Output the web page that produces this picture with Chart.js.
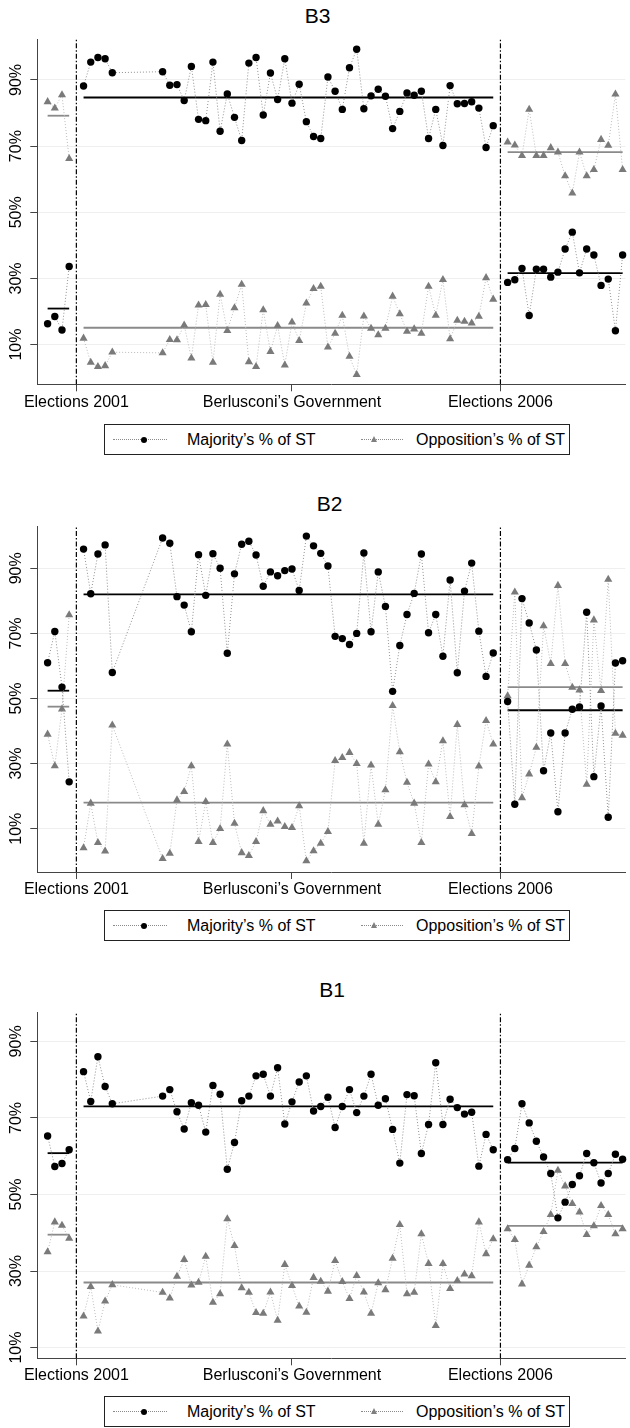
<!DOCTYPE html>
<html>
<head>
<meta charset="utf-8">
<script src="https://cdn.jsdelivr.net/npm/chart.js@4.4.1/dist/chart.umd.min.js"></script>
<style>
html,body{margin:0;padding:0;background:#fff;}
body{width:630px;height:1428px;position:relative;overflow:hidden;font-family:"Liberation Sans",Arial,Helvetica,sans-serif;}
canvas{position:absolute;left:0;}
.title{position:absolute;font-size:21px;line-height:24px;height:24px;color:#000;transform:translateX(-50%);white-space:nowrap;}
.legend{position:absolute;left:104px;width:466px;height:31px;box-sizing:border-box;border:1px solid #222;overflow:hidden;background:transparent;}
.legend .ln{position:absolute;top:14px;height:0;border-top:1px dotted #8a8a8a;}
.legend .dot{position:absolute;top:12px;width:6px;height:6px;border-radius:50%;background:#000;margin-left:-3px;}
.legend .tri{position:absolute;top:11px;width:0;height:0;border-left:3.5px solid transparent;border-right:3.5px solid transparent;border-bottom:6px solid #7f7f7f;margin-left:-3.5px;}
.legend .txt{position:absolute;top:0;line-height:29px;font-size:16px;color:#000;white-space:nowrap;}
</style>
</head>
<body>
<script>
// ---------------- shared axis data ----------------
const xTickMonths = [4, 34, 63];
const xTickLabels = ['Elections 2001', 'Berlusconi\u2019s Government', 'Elections 2006'];
const yTickValues = [10, 30, 50, 70, 90];
const electionMonths = [4, 63];
const preMonths = [0, 1, 2, 3];
const govMonths = [5, 6, 7, 8, 9, 16, 17, 18, 19, 20, 21, 22, 23, 24, 25, 26, 27, 28, 29, 30, 31, 32, 33, 34, 35, 36, 37, 38, 39, 40, 41, 42, 43, 44, 45, 46, 47, 48, 49, 50, 51, 52, 53, 54, 55, 56, 57, 58, 59, 60, 61, 62];
const postMonths = [64, 65, 66, 67, 68, 69, 70, 71, 72, 73, 74, 75, 76, 77, 78, 79, 80];
const legendLabels = ['Majority\u2019s % of ST', 'Opposition\u2019s % of ST'];

// ---------------- B3 ----------------
const b3MajPre = [16.3, 18.5, 14.4, 33.6];
const b3MajGov = [88.2, 95.4, 96.8, 96.4, 92.2, 92.5, 88.4, 88.6, 83.8, 94.1, 78.1, 77.7, 95.4, 74.5, 85.8, 78.7, 71.7, 95.1, 96.8, 79.4, 92.1, 84.1, 96.4, 83.0, 88.7, 77.4, 72.9, 72.3, 90.9, 86.6, 81.1, 93.7, 99.3, 81.3, 85.2, 87.2, 85.1, 75.3, 80.5, 86.1, 85.4, 86.6, 72.3, 81.1, 70.2, 88.3, 82.8, 82.9, 83.4, 81.5, 69.6, 76.2];
const b3MajPost = [28.8, 29.6, 33.0, 18.8, 32.8, 32.8, 30.4, 31.9, 38.9, 44.0, 31.7, 38.9, 37.1, 27.9, 29.8, 14.2, 37.1];
const b3OppPre = [83.4, 81.5, 85.5, 66.2];
const b3OppGov = [11.9, 4.6, 3.3, 3.6, 7.7, 7.5, 11.5, 11.4, 15.9, 5.9, 21.9, 22.1, 4.6, 25.2, 14.2, 21.1, 28.2, 4.8, 3.3, 20.5, 7.9, 15.7, 3.8, 16.8, 11.2, 22.5, 26.9, 27.6, 9.2, 13.4, 18.8, 6.4, 0.9, 18.6, 14.9, 12.9, 14.9, 24.6, 19.3, 14.0, 14.7, 13.4, 27.6, 18.8, 29.6, 11.7, 17.3, 17.0, 16.5, 18.5, 30.2, 23.7];
const b3OppPost = [71.2, 70.3, 67.1, 81.1, 67.1, 67.1, 69.5, 68.2, 61.0, 55.8, 68.2, 61.0, 62.9, 72.0, 70.2, 85.7, 62.9];
const b3MajMeans = [20.9, 84.7, 31.6];
const b3OppMeans = [79.2, 15.1, 68.2];

// ---------------- B2 ----------------
const b2MajPre = [61.0, 70.6, 53.5, 24.4];
const b2MajGov = [95.9, 82.2, 94.4, 97.2, 58.0, 99.3, 97.7, 81.3, 78.7, 70.5, 94.2, 81.7, 94.5, 90.0, 63.9, 88.3, 97.4, 98.3, 94.1, 84.5, 88.9, 87.7, 89.3, 89.8, 83.2, 99.9, 96.9, 94.6, 90.7, 69.1, 68.4, 66.6, 70.0, 94.7, 70.5, 88.9, 78.3, 52.2, 66.3, 75.8, 82.3, 94.4, 70.2, 75.8, 63.0, 86.4, 57.9, 83.0, 91.6, 70.7, 56.8, 64.0];
const b2MajPost = [49.1, 17.5, 80.7, 73.2, 64.9, 27.8, 39.4, 15.2, 39.4, 46.7, 47.4, 76.5, 26.0, 47.7, 13.5, 60.9, 61.6];
const b2OppPre = [39.0, 29.3, 46.7, 75.7];
const b2OppGov = [4.1, 17.8, 5.7, 3.1, 41.8, 0.8, 2.4, 18.8, 21.4, 29.3, 6.0, 18.3, 5.7, 10.0, 36.0, 11.6, 2.6, 1.7, 6.0, 15.5, 11.3, 12.3, 10.6, 10.3, 17.0, 0.1, 3.2, 5.5, 9.1, 30.9, 31.8, 33.4, 30.0, 5.5, 29.5, 11.3, 21.9, 47.8, 33.6, 24.2, 17.8, 5.7, 29.8, 24.4, 37.0, 13.7, 42.0, 17.3, 8.5, 29.2, 43.2, 36.0];
const b2OppPost = [50.8, 82.7, 19.5, 26.8, 35.0, 72.3, 60.7, 84.7, 60.7, 53.4, 52.6, 23.6, 74.1, 52.4, 86.6, 39.3, 38.7];
const b2MajMeans = [52.4, 82.0, 46.4];
const b2OppMeans = [47.5, 18.0, 53.5];

// ---------------- B1 ----------------
const b1MajPre = [65.3, 57.3, 58.1, 61.7];
const b1MajGov = [82.1, 74.3, 86.0, 78.2, 73.7, 75.7, 77.4, 71.6, 67.1, 74.0, 73.3, 66.3, 78.5, 76.2, 56.6, 63.6, 74.5, 75.7, 81.0, 81.4, 75.7, 83.1, 68.4, 74.2, 79.4, 81.0, 71.8, 73.0, 75.4, 67.5, 73.0, 77.4, 71.4, 75.7, 81.4, 73.3, 75.0, 67.0, 58.2, 76.1, 75.8, 60.7, 68.3, 84.4, 68.3, 74.9, 72.7, 71.0, 71.5, 57.4, 65.7, 61.7];
const b1MajPost = [59.1, 62.0, 73.7, 68.7, 63.9, 59.8, 55.5, 43.9, 48.0, 52.6, 54.9, 60.7, 58.3, 53.0, 55.5, 60.5, 59.2];
const b1OppPre = [35.0, 42.8, 41.9, 38.5];
const b1OppGov = [18.2, 25.9, 14.3, 22.1, 26.4, 24.4, 22.9, 28.6, 33.0, 26.3, 27.0, 33.8, 21.8, 24.0, 43.6, 36.6, 25.6, 24.4, 19.1, 18.9, 24.5, 17.1, 31.7, 26.2, 20.8, 19.2, 28.3, 27.3, 24.7, 32.7, 27.2, 22.8, 28.8, 24.5, 18.9, 26.9, 25.1, 33.3, 42.1, 24.0, 24.4, 39.7, 31.9, 15.7, 31.9, 25.4, 27.5, 29.2, 28.7, 42.8, 34.5, 38.4];
const b1OppPost = [41.0, 38.2, 26.6, 31.5, 36.3, 40.3, 44.7, 56.3, 52.2, 47.6, 45.4, 39.5, 41.8, 47.1, 44.7, 39.7, 41.0];
const b1MajMeans = [60.8, 73.0, 58.3];
const b1OppMeans = [39.5, 27.0, 41.8];

// ---------------- layout (not data) ----------------
const FONT = '"Liberation Sans", Arial, Helvetica, sans-serif';
const X_MIN = -1.435, X_MAX = 80.373;
const X_AXIS_H = 34, Y_AXIS_W = 37.3, PAD_TOP = 10;

const panels = [
  { title: 'B3', titleX: 317.5, titleY: 15.5, plotTop: 39.3, plotBottom: 384.3, yMin: -2.0, yMax: 102.3, xPad: 2, legendTop: 424,
    maj: [b3MajPre, b3MajGov, b3MajPost], opp: [b3OppPre, b3OppGov, b3OppPost], majMeans: b3MajMeans, oppMeans: b3OppMeans },
  { title: 'B2', titleX: 329.5, titleY: 503.5, plotTop: 526, plotBottom: 872, yMin: -3.3, yMax: 103.0, xPad: 0.5, legendTop: 910,
    maj: [b2MajPre, b2MajGov, b2MajPost], opp: [b2OppPre, b2OppGov, b2OppPost], majMeans: b2MajMeans, oppMeans: b2OppMeans },
  { title: 'B1', titleX: 332, titleY: 990, plotTop: 1012.3, plotBottom: 1358.3, yMin: 7.2, yMax: 97.6, xPad: 0.5, legendTop: 1396,
    maj: [b1MajPre, b1MajGov, b1MajPost], opp: [b1OppPre, b1OppGov, b1OppPost], majMeans: b1MajMeans, oppMeans: b1OppMeans }
];
const periods = [preMonths, govMonths, postMonths];

const majStyle = { borderColor: '#8f8f8f', borderWidth: 1, borderDash: [1, 2], pointStyle: 'circle', pointRadius: 3.7, pointHoverRadius: 3.7,
  pointBackgroundColor: '#000', pointBorderWidth: 0, tension: 0, fill: false, order: 0 };
const oppStyle = { borderColor: '#bababa', borderWidth: 1, borderDash: [1, 2], pointStyle: 'triangle', pointRadius: 4.7, pointHoverRadius: 4.7,
  pointBackgroundColor: '#7a7a7a', pointBorderWidth: 0, tension: 0, fill: false, order: 1 };

function toPoints(months, vals) { return months.map((m, i) => ({ x: m, y: vals[i] })); }

function buildPanel(p) {
  const canvasTop = Math.floor(p.plotTop - PAD_TOP);
  const padTop = p.plotTop - canvasTop;
  const canvasH = Math.ceil(padTop + (p.plotBottom - p.plotTop) + X_AXIS_H);
  const padBottom = canvasH - padTop - (p.plotBottom - p.plotTop) - X_AXIS_H;
  const c = document.createElement('canvas');
  c.width = 630; c.height = canvasH;
  c.style.top = canvasTop + 'px';
  c.style.width = '630px'; c.style.height = canvasH + 'px';
  document.body.appendChild(c);

  const datasets = [];
  periods.forEach((months, k) => {
    datasets.push(Object.assign({ label: legendLabels[0], data: toPoints(months, p.maj[k]) }, majStyle));
    datasets.push(Object.assign({ label: legendLabels[1], data: toPoints(months, p.opp[k]) }, oppStyle));
    datasets.push({ label: 'mean maj', data: [{ x: months[0], y: p.majMeans[k] }, { x: months[months.length - 1], y: p.majMeans[k] }],
      borderColor: '#000', borderWidth: 1.8, pointRadius: 0, order: 2 });
    datasets.push({ label: 'mean opp', data: [{ x: months[0], y: p.oppMeans[k] }, { x: months[months.length - 1], y: p.oppMeans[k] }],
      borderColor: '#8a8a8a', borderWidth: 1.8, pointRadius: 0, order: 2 });
  });
  electionMonths.forEach(m => {
    datasets.push({ label: 'election', data: [{ x: m, y: p.yMin }, { x: m, y: p.yMax }],
      borderColor: '#000', borderWidth: 1.2, borderDash: [5, 2, 1.5, 2], pointRadius: 0, order: 3 });
  });

  new Chart(c, {
    type: 'line',
    data: { datasets },
    options: {
      responsive: false, animation: false, devicePixelRatio: 1, events: [],
      layout: { padding: { top: padTop, bottom: padBottom, left: 0, right: 0 } },
      plugins: { legend: { display: false }, tooltip: { enabled: false }, title: { display: false } },
      datasets: { line: { clip: false } },
      scales: {
        x: {
          type: 'linear', position: 'bottom', min: X_MIN, max: X_MAX,
          afterBuildTicks: s => { s.ticks = xTickMonths.map(v => ({ value: v })); },
          afterFit: s => { s.height = X_AXIS_H; s.paddingLeft = 0; s.paddingRight = 0; },
          ticks: { autoSkip: false, maxRotation: 0, minRotation: 0, padding: p.xPad, color: '#000',
            font: { family: FONT, size: 16 }, callback: (v, i) => xTickLabels[i] },
          grid: { drawOnChartArea: false, drawTicks: true, tickLength: 7, tickColor: '#444', color: '#444' },
          border: { display: true, color: '#444', width: 1 }
        },
        y: {
          type: 'linear', position: 'left', min: p.yMin, max: p.yMax,
          afterBuildTicks: s => { s.ticks = yTickValues.map(v => ({ value: v })); },
          afterFit: s => { s.width = Y_AXIS_W; s.paddingTop = 0; s.paddingBottom = 0; },
          ticks: { autoSkip: false, minRotation: 90, maxRotation: 90, crossAlign: 'center', padding: -2.4, color: '#000',
            font: { family: FONT, size: 16 }, callback: v => v + '%' },
          grid: { drawOnChartArea: true, color: '#efefef', lineWidth: 1, drawTicks: true, tickLength: 7, tickColor: '#444' },
          border: { display: true, color: '#444', width: 1 }
        }
      }
    }
  });

  // title
  const t = document.createElement('div');
  t.className = 'title'; t.textContent = p.title;
  t.style.left = p.titleX + 'px'; t.style.top = (p.titleY - 12) + 'px';
  document.body.appendChild(t);

  // legend box
  const lg = document.createElement('div');
  lg.className = 'legend'; lg.style.top = p.legendTop + 'px';
  lg.innerHTML =
    '<div class="ln" style="left:8px;width:54px"></div><div class="dot" style="left:39px"></div>' +
    '<div class="txt" style="left:82px"></div>' +
    '<div class="ln" style="left:256px;width:42px"></div><div class="tri" style="left:269px"></div>' +
    '<div class="txt" style="left:311px"></div>';
  const txts = lg.querySelectorAll('.txt');
  txts[0].textContent = legendLabels[0];
  txts[1].textContent = legendLabels[1];
  document.body.appendChild(lg);
}

panels.forEach(buildPanel);
</script>
</body>
</html>
